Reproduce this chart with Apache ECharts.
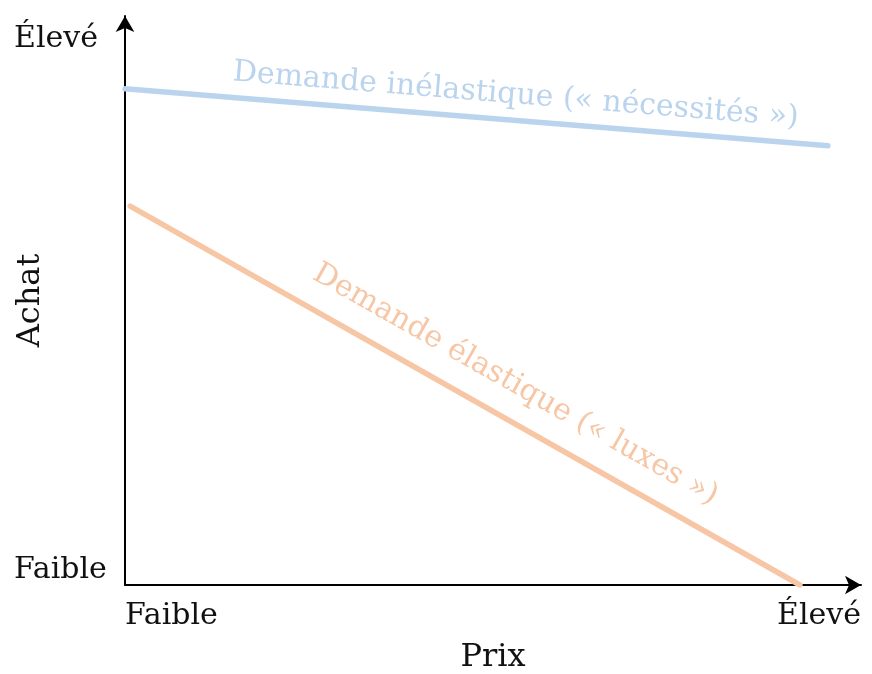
<!DOCTYPE html>
<html>
<head>
<meta charset="utf-8">
<script src="https://cdn.jsdelivr.net/npm/echarts@6/dist/echarts.min.js"></script>
<style>
html,body{margin:0;padding:0;background:#fff;}
#chart{width:872px;height:674px;}
</style>
</head>
<body>
<div id="chart"></div>
<script>
// ---- data ----
const xTickLabels = ['Faible', 'Élevé'];
const yTickLabels = ['Faible', 'Élevé'];
const xAxisName = 'Prix';
const yAxisName = 'Achat';
const seriesNames = ['Demande inélastique (« nécessités »)', 'Demande élastique (« luxes »)'];
const inelasticX = [0, 95.5];
const inelasticY = [87.2, 77.2];
const elasticX = [0.7, 91.7];
const elasticY = [66.6, 0];

// ---- styles ----
const FONT = '"DejaVu Serif", "Liberation Serif", serif';
const BLUE = '#bad4ee';
const ORANGE = '#f7c6a5';

function pairs(xs, ys) { return xs.map((x, i) => [x, ys[i]]); }

const chart = echarts.init(document.getElementById('chart'), null, {renderer: 'canvas'});

const axisLine = {
  show: true,
  symbol: ['none', 'arrow'],
  symbolSize: [14, 16],
  lineStyle: {color: '#000', width: 2}
};

const option = {
  animation: false,
  backgroundColor: '#fff',
  grid: {left: 125, right: 11, top: 16, bottom: 89, containLabel: false, outerBoundsMode: 'none'},
  xAxis: {
    type: 'value', min: 0, max: 100, interval: 100,
    axisLine: axisLine,
    axisTick: {show: false},
    splitLine: {show: false},
    axisLabel: {
      margin: 16,
      fontFamily: FONT, fontSize: 30, color: '#111',
      alignMinLabel: 'left', alignMaxLabel: 'right',
      formatter: v => v === 0 ? xTickLabels[0] : (v === 100 ? xTickLabels[1] : '')
    },
    name: xAxisName, nameLocation: 'middle', nameGap: 57, nameMoveOverlap: false,
    nameTextStyle: {fontFamily: FONT, fontSize: 32, color: '#111'}
  },
  yAxis: {
    type: 'value', min: 0, max: 100, interval: 100,
    axisLine: axisLine,
    axisTick: {show: false},
    splitLine: {show: false},
    axisLabel: {
      margin: 111, align: 'left',
      fontFamily: FONT, fontSize: 30, color: '#111',
      verticalAlignMinLabel: 'bottom', verticalAlignMaxLabel: 'top',
      formatter: v => v === 0 ? yTickLabels[0] : (v === 100 ? '{hi|' + yTickLabels[1] + '}' : ''),
      rich: {hi: {fontFamily: FONT, fontSize: 30, color: '#111', padding: [8, 0, 0, 0]}}
    },
    name: yAxisName, nameLocation: 'middle', nameGap: 78, nameRotate: 90, nameMoveOverlap: false,
    nameTextStyle: {fontFamily: FONT, fontSize: 32, color: '#111'}
  },
  series: [
    {
      name: seriesNames[0], type: 'line', symbol: 'none',
      data: pairs(inelasticX, inelasticY),
      lineStyle: {color: BLUE, width: 5.5, cap: 'round'},
      itemStyle: {color: BLUE}
    },
    {
      name: seriesNames[1], type: 'line', symbol: 'none',
      data: pairs(elasticX, elasticY),
      lineStyle: {color: ORANGE, width: 5.5, cap: 'round'},
      itemStyle: {color: ORANGE}
    }
  ]
};
chart.setOption(option);

// Place rotated labels along each line, using the chart's own scales.
function lineLabel(xs, ys, text, color, t, offset) {
  const a = chart.convertToPixel({gridIndex: 0}, [xs[0], ys[0]]);
  const b = chart.convertToPixel({gridIndex: 0}, [xs[xs.length - 1], ys[ys.length - 1]]);
  const dx = b[0] - a[0], dy = b[1] - a[1];
  const len = Math.sqrt(dx * dx + dy * dy);
  const ux = dx / len, uy = dy / len;
  const nx = uy, ny = -ux; // upward normal
  const px = a[0] + dx * t + nx * offset;
  const py = a[1] + dy * t + ny * offset;
  return {
    type: 'text', x: px, y: py, rotation: -Math.atan2(dy, dx), z: 10,
    style: {text: text, fill: color, font: '30px ' + FONT, align: 'center', verticalAlign: 'middle'}
  };
}

chart.setOption({
  graphic: [
    lineLabel(inelasticX, inelasticY, seriesNames[0], BLUE, 0.553, 25),
    lineLabel(elasticX, elasticY, seriesNames[1], ORANGE, 0.55, 34)
  ]
});
</script>
</body>
</html>
